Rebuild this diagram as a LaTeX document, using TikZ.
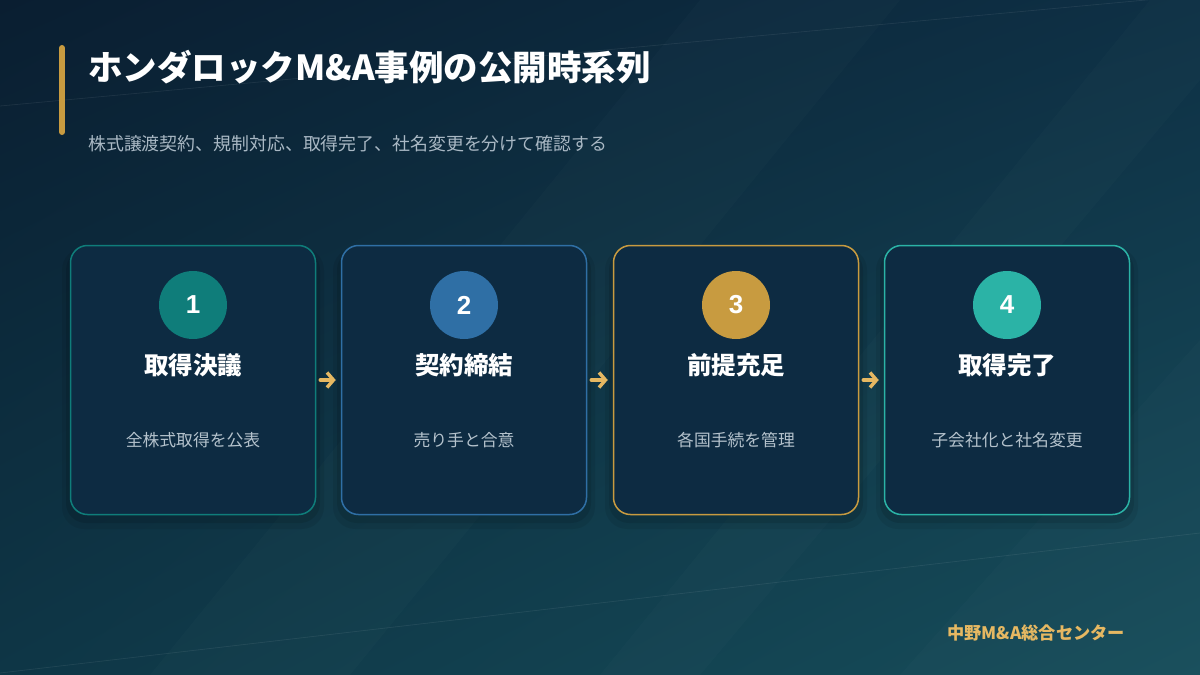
\documentclass[tikz,border=0pt]{standalone}
\usepackage{fontspec}
\setmainfont{Noto Sans CJK JP}
\newfontfamily\numfont{Liberation Sans}
\usetikzlibrary{arrows.meta,shadings}
\definecolor{bgTL}{HTML}{0A1E31}
\definecolor{bgTR}{HTML}{0E3045}
\definecolor{bgBL}{HTML}{0E3646}
\definecolor{bgBR}{HTML}{174E5B}
\definecolor{cardfill}{HTML}{0D2B42}
\definecolor{cA}{HTML}{0F7D7A}
\definecolor{cB}{HTML}{2F6FA5}
\definecolor{cC}{HTML}{C89B40}
\definecolor{cD}{HTML}{2BB3A6}
\definecolor{gold}{HTML}{E6B862}
\definecolor{subgray}{HTML}{A9B8C4}
\definecolor{descgray}{HTML}{B4C2CC}
\tikzset{
  card/.style={draw=#1, line width=1.5pt, fill=cardfill, rounded corners=17pt, minimum width=245pt, minimum height=269pt, inner sep=0pt},
  numcirc/.style={circle, fill=#1, minimum size=68pt, inner sep=0pt, text=white, font=\numfont\bfseries\fontsize{26}{26}\selectfont},
  steptitle/.style={text=white, font=\bfseries\fontsize{24.5}{24.5}\selectfont},
  stepdesc/.style={text=descgray, font=\fontsize{16.8}{16.8}\selectfont},
  flowarrow/.style={draw=gold, line width=3.4pt, -{Straight Barb[length=6.5pt,width=15pt,line width=3.4pt]}, line cap=round},
  band/.style={white, opacity=0.015},
}
\begin{document}
\begin{tikzpicture}[x=1pt,y=-1pt]
\useasboundingbox (0,0) rectangle (1200,675);
\shade[upper left=bgTL, upper right=bgTR, lower left=bgBL, lower right=bgBR] (0,0) rectangle (1200,675);
% faint diagonal bands
\fill[band] (150,675) -- (700,0) -- (900,0) -- (350,675) -- cycle;
\fill[band] (600,675) -- (1150,0) -- (1200,0) -- (1200,80) -- (700,675) -- cycle;
\fill[band] (900,675) -- (1200,340) -- (1200,675) -- cycle;
% faint diagonal lines
\draw[white, opacity=0.07, line width=0.8pt] (0,106) -- (1200,-5);
\draw[white, opacity=0.07, line width=0.8pt] (0,673) -- (1200,533);
% header
\draw[cC, line width=6pt, line cap=round] (62,48) -- (62,132);
\node[anchor=west, text=white, font=\bfseries\fontsize{34.5}{34.5}\selectfont, inner sep=0pt] (title) at (88,67) {ホンダロックM\&A事例の公開時系列};
\node[anchor=west, text=subgray, font=\fontsize{17.9}{17.9}\selectfont, inner sep=0pt] (subtitle) at (88,144) {株式譲渡契約、規制対応、取得完了、社名変更を分けて確認する};
% shadows
\foreach \cx in {193,464,736,1007} {
  \fill[black, opacity=0.10, rounded corners=20pt] (\cx-127,250) rectangle (\cx+127,523);
  \fill[black, opacity=0.07, rounded corners=22pt] (\cx-131,248) rectangle (\cx+131,529);
}
% cards
\node[card=cA] (c1) at (193,380) {};
\node[card=cB] (c2) at (464,380) {};
\node[card=cC] (c3) at (736,380) {};
\node[card=cD] (c4) at (1007,380) {};
% circles
\node[numcirc=cA] (n1) at (193,305) {1};
\node[numcirc=cB] (n2) at (464,305) {2};
\node[numcirc=cC] (n3) at (736,305) {3};
\node[numcirc=cD] (n4) at (1007,305) {4};
% titles
\node[steptitle] (t1) at (193,365) {取得決議};
\node[steptitle] (t2) at (464,365) {契約締結};
\node[steptitle] (t3) at (736,365) {前提充足};
\node[steptitle] (t4) at (1007,365) {取得完了};
% descriptions
\node[stepdesc] (d1) at (193,440) {全株式取得を公表};
\node[stepdesc] (d2) at (464,440) {売り手と合意};
\node[stepdesc] (d3) at (736,440) {各国手続を管理};
\node[stepdesc] (d4) at (1007,440) {子会社化と社名変更};
% arrows
\draw[flowarrow] ([xshift=4pt]c1.east) -- ([xshift=-5pt]c2.west);
\draw[flowarrow] ([xshift=4pt]c2.east) -- ([xshift=-5pt]c3.west);
\draw[flowarrow] ([xshift=4pt]c3.east) -- ([xshift=-5pt]c4.west);
% footer
\node[anchor=east, text=gold, font=\bfseries\fontsize{17.2}{17.2}\selectfont, inner sep=0pt] (footer) at (1125,633) {中野M\&A総合センター};
\end{tikzpicture}
\end{document}
